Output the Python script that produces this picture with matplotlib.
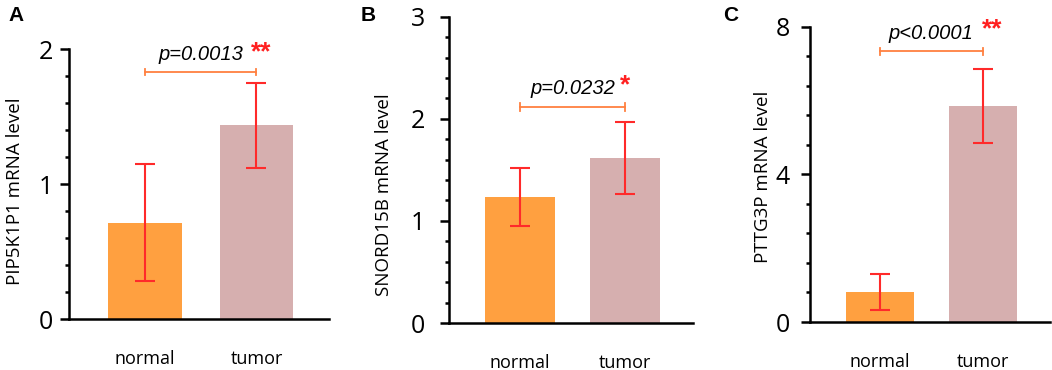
import matplotlib
matplotlib.use('Agg')
import matplotlib.pyplot as plt
from matplotlib.ticker import MultipleLocator

plt.rcParams['font.family'] = ['Open Sans', 'DejaVu Sans']

groups = ['normal', 'tumor']

# panel A
a_means = [0.713, 1.435]
a_err = [0.435, 0.316]
# panel B
b_means = [1.234, 1.616]
b_err = [0.283, 0.353]
# panel C
c_means = [0.805, 5.845]
c_err = [0.49, 1.0]

letters = ['A', 'B', 'C']
ylabels = ['PIP5K1P1 mRNA level', 'SNORD15B mRNA level', 'PTTG3P mRNA level']
pvals = ['p=0.0013', 'p=0.0232', 'p<0.0001']
stars = ['**', '*', '**']
ymax = [2, 3, 8]
major = [1, 1, 4]
minor = [0.2, 0.2, 0.8]
bracket_y = [1.83, 2.115, 7.33]
star_y = [1.977, 2.33, 7.93]

bar_colors = ['#FFA040', '#D6AFAF']
err_color = '#FF2A2A'
brk_color = '#FF8040'

fig = plt.figure(figsize=(10.52, 3.70), dpi=100)
rects = [[0.0659, 0.1378, 0.2469, 0.7297],
         [0.4271, 0.1270, 0.2317, 0.8278],
         [0.7700, 0.1297, 0.2281, 0.7981]]
letter_x = [0.008, 0.343, 0.687]
tick_pad = [5, 11, 8]
label_xy = [(-0.174, 0.474), (-0.231, 0.418), (-0.158, 0.491)]
star_x = [0.95, 0.95, 0.99]

data = [(a_means, a_err), (b_means, b_err), (c_means, c_err)]

for i in range(3):
    ax = fig.add_axes(rects[i])
    means, errs = data[i]
    x = range(len(groups))
    ax.bar(x, means, width=0.66, color=bar_colors)
    ax.errorbar(x, means, yerr=errs, fmt='none', ecolor=err_color,
                elinewidth=1.5, capsize=7, capthick=1.5)
    ax.set_xlim(-0.675, 1.65)
    ax.set_ylim(0, ymax[i])
    ax.yaxis.set_major_locator(MultipleLocator(major[i]))
    ax.yaxis.set_minor_locator(MultipleLocator(minor[i]))
    ax.spines['top'].set_visible(False)
    ax.spines['right'].set_visible(False)
    ax.spines['left'].set_linewidth(1.8)
    ax.spines['bottom'].set_linewidth(1.8)
    ax.tick_params(axis='y', which='major', length=6.5, width=1.8, labelsize=18,
                   pad=tick_pad[i])
    ax.tick_params(axis='y', which='minor', length=3, width=1.8)
    ax.tick_params(axis='x', length=0, labelsize=13, pad=22)
    ax.set_xticks(list(x))
    ax.set_xticklabels(groups)
    ax.set_ylabel(ylabels[i], fontsize=13.5)
    ax.yaxis.set_label_coords(*label_xy[i])

    # significance bracket
    yb = bracket_y[i]
    ax.plot([0, 1], [yb, yb], color=brk_color, lw=1.3, clip_on=False)
    cap = ymax[i] * 0.012
    ax.plot([0, 0], [yb - cap, yb + cap], color=brk_color, lw=1.3, clip_on=False)
    ax.plot([1, 1], [yb - cap, yb + cap], color=brk_color, lw=1.3, clip_on=False)
    ax.text(0.5, yb + ymax[i] * 0.03, pvals[i], ha='center', va='bottom',
            fontsize=14.5, style='italic', family='Liberation Sans')
    ax.text(star_x[i], star_y[i], stars[i], ha='left', va='center',
            fontsize=19, color='#FF2020', fontweight='bold', family='Liberation Sans')

    fig.text(letter_x[i], 0.985, letters[i], ha='left', va='top',
             fontsize=15, fontweight='bold', family='Liberation Sans')

fig.savefig('out.png', dpi=100)
